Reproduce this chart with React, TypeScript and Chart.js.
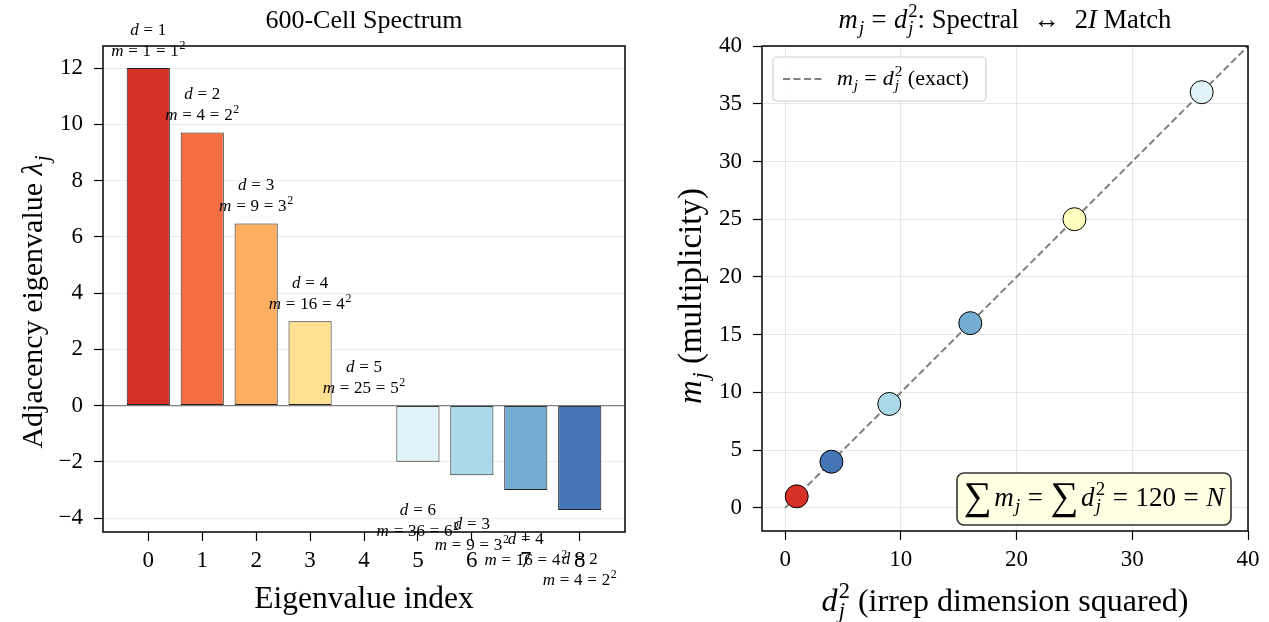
import React, { useEffect, useRef } from 'react';
import { Chart, registerables } from 'chart.js';

Chart.register(...registerables);

const FONT = "'Liberation Serif', 'Times New Roman', serif";

// ---------- data ----------
const eigenIndex = [0, 1, 2, 3, 4, 5, 6, 7, 8];
const eigenvalues = [12, 9.708, 6.472, 3, 0, -2, -2.472, -3, -3.708];
const irrepDims = [1, 2, 3, 4, 5, 6, 3, 4, 2];
const multiplicities = [1, 4, 9, 16, 25, 36, 9, 16, 4];
const barColors = ['#d73027', '#f46d43', '#fdae61', '#fee090', '#ffffbf', '#e0f3f8', '#abd9e9', '#74add1', '#4575b4'];

const dimSquared = [1, 4, 9, 16, 25, 36];
const observedMult = [1, 4, 9, 16, 25, 36];
const pointColors = ['#d73027', '#4575b4', '#abd9e9', '#74add1', '#ffffbf', '#e0f3f8'];
const exactLine = [0, 40];

const leftTicksY = [-4, -2, 0, 2, 4, 6, 8, 10, 12];

// ---------- tiny TeX-like renderer ----------
type Seg = { t: string; it: boolean; pos: number; sc: number; pl: number; pr: number; stack: boolean; dy: number };

function tex(s: string): Seg[] {
  const out: Seg[] = [];
  let m = false;
  let i = 0;
  const mk = (t: string, it: boolean): Seg => ({ t, it, pos: 0, sc: 1, pl: 0, pr: 0, stack: false, dy: 0 });
  const tok = (): Seg => {
    const c = s[i];
    if (c === '\\') {
      let j = i + 1;
      while (j < s.length && /[a-zA-Z]/.test(s[j])) j++;
      const name = s.slice(i + 1, j);
      i = j;
      if (name === 'sum') { const g = mk('\u2211', false); g.sc = 1.45; g.pr = 0.1; g.dy = 0.12; return g; }
      if (name === 'lambda') return mk('\u03bb', true);
      if (name === 'leftrightarrow') { const g = mk('\u2194', false); g.pl = 0.3; g.pr = 0.3; return g; }
      return mk(name, false);
    }
    i++;
    if (c === '=') { const g = mk('=', false); g.pl = 0.28; g.pr = 0.28; return g; }
    return mk(c, /[a-zA-Z]/.test(c));
  };
  while (i < s.length) {
    const c = s[i];
    if (c === '$') { m = !m; i++; continue; }
    if (!m) {
      let j = i;
      while (j < s.length && s[j] !== '$') j++;
      out.push(mk(s.slice(i, j), false));
      i = j;
      continue;
    }
    if (c === ' ') { i++; continue; }
    if (c === '_' || c === '^') {
      i++;
      const g = tok();
      g.pos = c === '^' ? 1 : -1;
      g.sc = 0.7;
      const prev = out[out.length - 1];
      if (prev && prev.pos !== 0 && prev.pos !== g.pos) g.stack = true;
      out.push(g);
      continue;
    }
    out.push(tok());
  }
  return out;
}

function drawTex(ctx: CanvasRenderingContext2D, s: string, x: number, y: number, size: number, align: string = 'center', color: string = '#000') {
  const segs = tex(s);
  ctx.save();
  ctx.fillStyle = color;
  ctx.textBaseline = 'alphabetic';
  ctx.textAlign = 'left';
  const font = (g: Seg) => `${g.it ? 'italic ' : ''}${(size * g.sc).toFixed(2)}px ${FONT}`;
  const xs: number[] = [];
  let cx = 0;
  let lastStart = 0;
  for (const g of segs) {
    ctx.font = font(g);
    const w = ctx.measureText(g.t).width;
    if (g.stack) {
      xs.push(lastStart);
      cx = Math.max(cx, lastStart + w);
      continue;
    }
    cx += g.pl * size;
    if (g.pos === 1 || g.pos === -1) cx += 0.04 * size;
    xs.push(cx);
    lastStart = cx;
    cx += w + g.pr * size;
  }
  const total = cx;
  const x0 = align === 'center' ? x - total / 2 : align === 'right' ? x - total : x;
  const base = y + 0.33 * size;
  segs.forEach((g, k) => {
    ctx.font = font(g);
    const dy = (g.pos === 1 ? -0.4 * size : g.pos === -1 ? 0.22 * size : 0) + g.dy * size;
    ctx.fillText(g.t, x0 + xs[k], base + dy);
  });
  ctx.restore();
  return total;
}

function drawFrame(ctx: CanvasRenderingContext2D, ca: any) {
  ctx.save();
  ctx.strokeStyle = '#000';
  ctx.lineWidth = 1.5;
  ctx.strokeRect(ca.left, ca.top, ca.right - ca.left, ca.bottom - ca.top);
  ctx.restore();
}

const minusFmt = (v: any) => (Number(v) < 0 ? '\u2212' + Math.abs(Number(v)) : String(v));

// ---------- layout constants ----------
const LEFT_W = 634;
const RIGHT_X = 634;
const RIGHT_W = 635;
const H = 622;

const dataMinL = Math.min(...eigenvalues);
const dataMaxL = Math.max(...eigenvalues);
const marginL = (dataMaxL - dataMinL) * 0.05;

export default function App() {
  const leftRef = useRef<HTMLCanvasElement | null>(null);
  const rightRef = useRef<HTMLCanvasElement | null>(null);

  useEffect(() => {
    const leftDeco = {
      id: 'leftDeco',
      afterDatasetsDraw(chart: any) {
        const { ctx, chartArea: ca, scales } = chart;
        const y0 = scales.y.getPixelForValue(0);
        ctx.save();
        ctx.strokeStyle = '#808080';
        ctx.lineWidth = 1.2;
        ctx.beginPath();
        ctx.moveTo(ca.left, y0);
        ctx.lineTo(ca.right, y0);
        ctx.stroke();
        ctx.restore();
      },
      afterDraw(chart: any) {
        const { ctx, chartArea: ca, scales } = chart;
        drawFrame(ctx, ca);
        const cxm = (ca.left + ca.right) / 2;
        drawTex(ctx, '600-Cell Spectrum', cxm, 19, 26);
        drawTex(ctx, 'Eigenvalue index', cxm, 598, 31.5);
        ctx.save();
        ctx.translate(32, 302);
        ctx.rotate(-Math.PI / 2);
        drawTex(ctx, 'Adjacency eigenvalue $\\lambda_j$', 0, 0, 30);
        ctx.restore();
        eigenIndex.forEach((idx, k) => {
          const v = eigenvalues[k];
          const px = scales.x.getPixelForValue(idx);
          const vp = scales.y.getPixelForValue(v);
          const dY = v >= 0 ? vp - 39 : vp + 48;
          drawTex(ctx, `$d=${irrepDims[k]}$`, px, dY, 17);
          drawTex(ctx, `$m=${multiplicities[k]}=${irrepDims[k]}^2$`, px, dY + 21, 17);
        });
      },
    };

    const rightDeco = {
      id: 'rightDeco',
      afterDraw(chart: any) {
        const { ctx, chartArea: ca } = chart;
        drawFrame(ctx, ca);
        const cxm = (ca.left + ca.right) / 2;
        drawTex(ctx, '$m_j=d_j^2$: Spectral $\\leftrightarrow$ $2I$ Match', cxm, 19, 26.6);
        drawTex(ctx, '$d_j^2$ (irrep dimension squared)', cxm, 600, 32);
        ctx.save();
        ctx.translate(690 - RIGHT_X, 296);
        ctx.rotate(-Math.PI / 2);
        drawTex(ctx, '$m_j$ (multiplicity)', 0, 0, 33);
        ctx.restore();

        // legend
        const lx = 773 - RIGHT_X, ly = 57, lw = 213, lh = 44;
        ctx.save();
        ctx.fillStyle = 'rgba(255,255,255,0.8)';
        ctx.strokeStyle = '#d0d0d0';
        ctx.lineWidth = 1.2;
        ctx.beginPath();
        (ctx as any).roundRect(lx, ly, lw, lh, 4);
        ctx.fill();
        ctx.stroke();
        ctx.strokeStyle = '#808080';
        ctx.lineWidth = 2;
        ctx.setLineDash([7, 3.5]);
        ctx.beginPath();
        ctx.moveTo(lx + 10, ly + lh / 2);
        ctx.lineTo(lx + 50, ly + lh / 2);
        ctx.stroke();
        ctx.restore();
        drawTex(ctx, '$m_j=d_j^2$ (exact)', lx + 64, ly + lh / 2 - 1, 22, 'left');

        // sum box
        const bx = 957 - RIGHT_X, by = 473, bw = 274, bh = 52;
        ctx.save();
        ctx.fillStyle = '#ffffe3';
        ctx.strokeStyle = '#333333';
        ctx.lineWidth = 1.6;
        ctx.beginPath();
        (ctx as any).roundRect(bx, by, bw, bh, 7);
        ctx.fill();
        ctx.stroke();
        ctx.restore();
        drawTex(ctx, '$\\sum m_j=\\sum d_j^2=120=N$', bx + bw / 2, by + bh / 2 - 2, 27);
      },
    };

    const tickFont = { family: FONT, size: 23 };

    const left = new Chart(leftRef.current as HTMLCanvasElement, {
      type: 'bar',
      data: {
        datasets: [
          {
            data: eigenIndex.map((x, i) => ({ x, y: eigenvalues[i] })),
            backgroundColor: barColors,
            borderColor: '#222222',
            borderWidth: 1,
            borderSkipped: false,
            barPercentage: 0.8,
            categoryPercentage: 1,
          } as any,
        ],
      },
      options: {
        responsive: false,
        animation: false,
        layout: { padding: { top: 46, right: 9, left: 0, bottom: 0 } },
        plugins: { legend: { display: false }, tooltip: { enabled: false }, title: { display: false } },
        scales: {
          x: {
            type: 'linear',
            min: -0.4 - 0.44,
            max: 8.4 + 0.44,
            offset: false,
            grid: { display: true, drawOnChartArea: false, tickLength: 9, tickColor: '#000', tickWidth: 1.2, offset: false },
            border: { display: false },
            ticks: { stepSize: 1, includeBounds: false, color: '#000', font: tickFont, padding: 6, maxRotation: 0, autoSkip: false },
            afterFit: (s: any) => { s.height = H - 532; },
          },
          y: {
            type: 'linear',
            min: dataMinL - marginL,
            max: dataMaxL + marginL,
            grid: { color: 'rgba(0,0,0,0.08)', lineWidth: 1, tickLength: 9, tickColor: '#000', tickWidth: 1.2 },
            border: { display: false },
            afterBuildTicks: (s: any) => { s.ticks = leftTicksY.map((v) => ({ value: v })); },
            ticks: { color: '#000', font: tickFont, padding: 11, callback: minusFmt },
            afterFit: (s: any) => { s.width = 103; },
          },
        },
      } as any,
      plugins: [leftDeco],
    });

    const right = new Chart(rightRef.current as HTMLCanvasElement, {
      type: 'scatter',
      data: {
        datasets: [
          {
            type: 'scatter',
            data: dimSquared.map((x, i) => ({ x, y: observedMult[i] })),
            backgroundColor: pointColors,
            borderColor: '#000',
            borderWidth: 1,
            pointRadius: 11.5,
            order: 0,
          } as any,
          {
            type: 'line',
            data: exactLine.map((v) => ({ x: v, y: v })),
            borderColor: '#808080',
            borderWidth: 2,
            borderDash: [7, 3.5],
            pointRadius: 0,
            fill: false,
            order: 1,
          } as any,
        ],
      },
      options: {
        responsive: false,
        animation: false,
        layout: { padding: { top: 46, right: RIGHT_W - (1248 - RIGHT_X), left: 0, bottom: 0 } },
        plugins: { legend: { display: false }, tooltip: { enabled: false }, title: { display: false } },
        scales: {
          x: {
            type: 'linear',
            min: -2,
            max: 40,
            grid: { color: 'rgba(0,0,0,0.09)', tickLength: 9, tickColor: '#000', tickWidth: 1.2 },
            border: { display: false },
            ticks: { stepSize: 10, includeBounds: false, color: '#000', font: tickFont, padding: 6, maxRotation: 0 },
            afterFit: (s: any) => { s.height = H - 531; },
          },
          y: {
            type: 'linear',
            min: -2,
            max: 40,
            grid: { color: 'rgba(0,0,0,0.09)', tickLength: 9, tickColor: '#000', tickWidth: 1.2 },
            border: { display: false },
            ticks: { stepSize: 5, includeBounds: false, color: '#000', font: tickFont, padding: 11 },
            afterFit: (s: any) => { s.width = 762 - RIGHT_X; },
          },
        },
      } as any,
      plugins: [rightDeco],
    });

    return () => {
      left.destroy();
      right.destroy();
    };
  }, []);

  return (
    <div style={{ position: 'fixed', left: 0, top: 0, width: 1269, height: H, background: '#fff' }}>
      <canvas ref={leftRef} width={LEFT_W} height={H} style={{ position: 'absolute', left: 0, top: 0, width: LEFT_W, height: H }} />
      <canvas ref={rightRef} width={RIGHT_W} height={H} style={{ position: 'absolute', left: RIGHT_X, top: 0, width: RIGHT_W, height: H }} />
    </div>
  );
}
